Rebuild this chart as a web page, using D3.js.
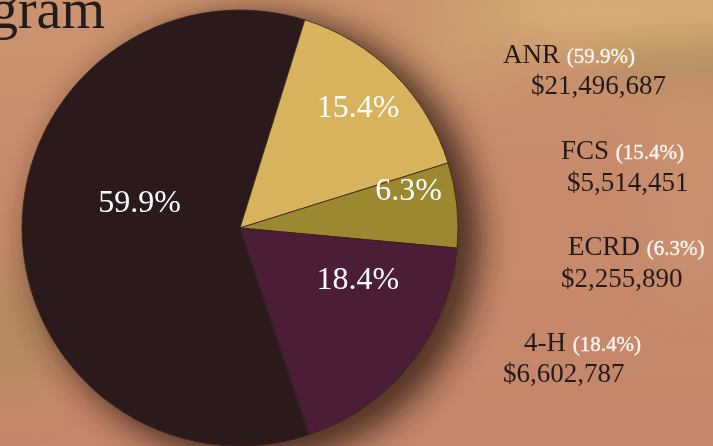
<!DOCTYPE html>
<html>
<head>
<meta charset="utf-8">
<script src="https://cdn.jsdelivr.net/npm/d3@7"></script>
<style>
  html, body { margin: 0; padding: 0; overflow: hidden; }
  svg { display: block; }
</style>
</head>
<body>
<div id="chart"></div>
<script>
const categories = ["ANR", "FCS", "ECRD", "4-H"];
const amounts = [21496687, 5514451, 2255890, 6602787];
const sliceColors = ["#2b1a1c", "#d8b35e", "#9c8831", "#4b1d37"];

const width = 713;
const height = 446;
const cx = 240, cy = 228, radius = 218;

// where the first slice boundary (ANR -> FCS) sits, degrees clockwise from 12 o'clock
const fcsStartDeg = 17.3;

// label spots inside the pie: radius + angle (deg)
const innerLabelPos = [
    { r: 104, a: -75 },
    { r: 170, a: 44 },
    { r: 173, a: 77 },
    { r: 128, a: 113 }
];

// right-hand legend text: [name line x, baseline], [amount line x, baseline]
const legendPos = [
    { x1: 503, y1: 63, x2: 531, y2: 94 },
    { x1: 561, y1: 159, x2: 567, y2: 191 },
    { x1: 568, y1: 255, x2: 561, y2: 287 },
    { x1: 524, y1: 351, x2: 503, y2: 382 }
];

const svg = d3.select("#chart").append("svg")
    .attr("width", width)
    .attr("height", height);

const defs = svg.append("defs");

const bgGrad = defs.append("linearGradient")
    .attr("id", "bg")
    .attr("x1", "0").attr("y1", "0").attr("x2", "0").attr("y2", "1");
bgGrad.append("stop").attr("offset", "0%").attr("stop-color", "#cb946f");
bgGrad.append("stop").attr("offset", "40%").attr("stop-color", "#c78b6c");
bgGrad.append("stop").attr("offset", "100%").attr("stop-color", "#c4866a");

defs.append("filter").attr("id", "soft")
    .attr("x", "-50%").attr("y", "-50%").attr("width", "200%").attr("height", "200%")
    .append("feGaussianBlur").attr("stdDeviation", 22);

defs.append("filter").attr("id", "shadow")
    .attr("x", "-30%").attr("y", "-30%").attr("width", "160%").attr("height", "160%")
    .append("feGaussianBlur").attr("stdDeviation", 16);

svg.append("rect")
    .attr("width", width).attr("height", height)
    .attr("fill", "url(#bg)");

// background tints
const tints = [
    { x: 620, y: 12, rx: 170, ry: 35, c: "#d6ad73", o: 1 },
    { x: 690, y: 62, rx: 90, ry: 16, c: "#9c8456", o: 0.85 },
    { x: 470, y: 40, rx: 60, ry: 50, c: "#caa070", o: 0.6 },
    { x: 15, y: 330, rx: 40, ry: 70, c: "#ad8a5c", o: 0.7 },
    { x: 690, y: 180, rx: 40, ry: 120, c: "#c99570", o: 0.6 }
];
svg.append("g").attr("filter", "url(#soft)")
    .selectAll("ellipse").data(tints).join("ellipse")
    .attr("cx", d => d.x).attr("cy", d => d.y)
    .attr("rx", d => d.rx).attr("ry", d => d.ry)
    .attr("fill", d => d.c).attr("opacity", d => d.o);

// title fragment
svg.append("text")
    .attr("x", 105).attr("y", 28)
    .attr("text-anchor", "end")
    .attr("font-family", "Liberation Serif, serif")
    .attr("font-size", 56)
    .attr("fill", "#231c1c")
    .text("Program");

// drop shadow
svg.append("circle")
    .attr("cx", cx + 16).attr("cy", cy + 10).attr("r", radius + 6)
    .attr("fill", "#3b2414").attr("opacity", 0.85)
    .attr("filter", "url(#shadow)");

const total = d3.sum(amounts);
const rad = Math.PI / 180;
const start = fcsStartDeg * rad - 2 * Math.PI * amounts[0] / total;

const pie = d3.pie().sort(null).value(d => d)
    .startAngle(start).endAngle(start + 2 * Math.PI);
const arcs = pie(amounts);

const arc = d3.arc().innerRadius(0).outerRadius(radius);

const g = svg.append("g").attr("transform", `translate(${cx},${cy})`);

g.selectAll("path").data(arcs).join("path")
    .attr("d", arc)
    .attr("fill", (d, i) => sliceColors[i])
    .attr("stroke", "#3a2216")
    .attr("stroke-width", 0.8);

const pctFmt = v => d3.format(".1f")(v / total * 100) + "%";

g.selectAll("text.pct").data(arcs).join("text")
    .attr("class", "pct")
    .attr("x", (d, i) => innerLabelPos[i].r * Math.sin(innerLabelPos[i].a * rad))
    .attr("y", (d, i) => -innerLabelPos[i].r * Math.cos(innerLabelPos[i].a * rad))
    .attr("dy", "0.35em")
    .attr("text-anchor", "middle")
    .attr("font-family", "Liberation Serif, serif")
    .attr("font-size", 32)
    .attr("fill", "#ffffff")
    .text(d => pctFmt(d.value));

// legend on the right
const moneyFmt = d3.format("$,");
const legend = svg.append("g")
    .attr("font-family", "Liberation Serif, serif")
    .attr("fill", "#221a1a");

categories.forEach((name, i) => {
    const p = legendPos[i];
    const t = legend.append("text")
        .attr("x", p.x1).attr("y", p.y1)
        .attr("font-size", 27);
    t.append("tspan").text(name + " ");
    t.append("tspan")
        .attr("font-size", 21)
        .attr("fill", "#fbf6f0")
        .attr("stroke", "#fbf6f0")
        .attr("stroke-width", 0.35)
        .text("(" + pctFmt(amounts[i]) + ")");
    legend.append("text")
        .attr("x", p.x2).attr("y", p.y2)
        .attr("font-size", 27)
        .text(moneyFmt(amounts[i]));
});
</script>
</body>
</html>
